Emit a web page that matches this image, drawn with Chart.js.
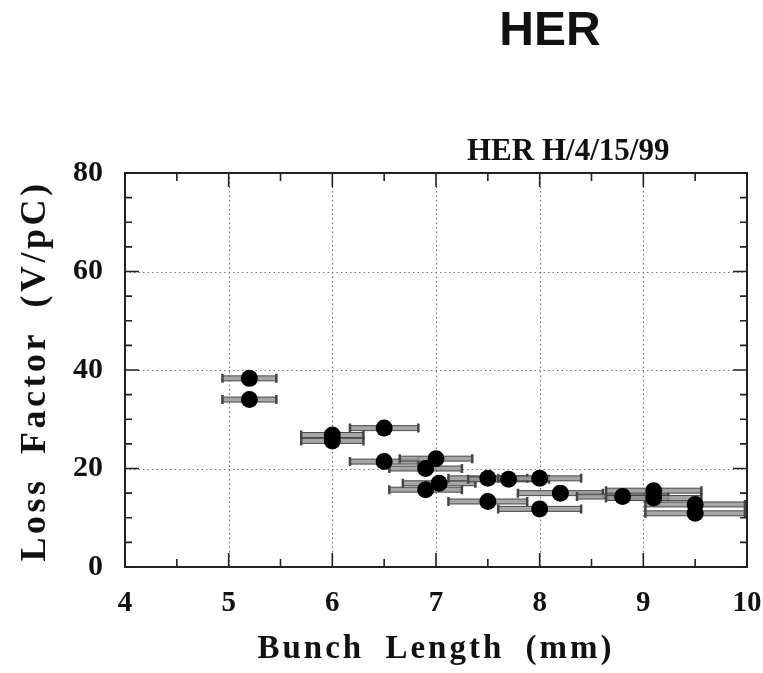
<!DOCTYPE html>
<html><head><meta charset="utf-8">
<script src="https://cdn.jsdelivr.net/npm/chart.js@4/dist/chart.umd.min.js"></script>
<style>html,body{margin:0;padding:0;background:#fff;overflow:hidden}</style>
</head><body>
<canvas id="c" width="763" height="673"></canvas>
<script>
// ---- data ----
const bunchLength    = [5.2, 5.2, 6.0, 6.0, 6.5, 6.5, 7.0, 6.9, 6.9, 7.03, 7.5, 7.5, 7.7, 8.0, 8.0, 8.2, 8.8, 9.1, 9.1, 9.5, 9.5];
const lossFactor     = [38.3, 34.0, 26.8, 25.6, 28.2, 21.4, 22.0, 20.0, 15.7, 17.0, 18.0, 13.3, 17.8, 18.0, 11.8, 15.0, 14.3, 15.5, 14.0, 12.7, 10.9];
const bunchLengthErr = [0.26, 0.26, 0.30, 0.30, 0.33, 0.33, 0.35, 0.35, 0.35, 0.35, 0.38, 0.38, 0.39, 0.40, 0.40, 0.41, 0.44, 0.46, 0.46, 0.48, 0.48];
const xTickLabels = [4, 5, 6, 7, 8, 9, 10];
const yTickLabels = [0, 20, 40, 60, 80];
const chartTitle = 'HER';
const runLabel = 'HER H/4/15/99';
const xTitle = 'Bunch Length (mm)';
const yTitle = 'Loss Factor (V/pC)';

const points = bunchLength.map((x, i) => ({x: x, y: lossFactor[i], e: bunchLengthErr[i]}));

const decor = {
  id: 'decor',
  beforeDatasetsDraw(chart) {
    const {ctx, chartArea: a, scales: {x, y}} = chart;
    ctx.save();
    // dotted grid
    ctx.setLineDash([1.5, 3]);
    ctx.strokeStyle = '#777';
    ctx.lineWidth = 1.2;
    xTickLabels.slice(1, -1).forEach(v => {
      const px = Math.round(x.getPixelForValue(v)) + 0.5;
      ctx.beginPath(); ctx.moveTo(px, a.top); ctx.lineTo(px, a.bottom); ctx.stroke();
    });
    yTickLabels.slice(1, -1).forEach(v => {
      const py = Math.round(y.getPixelForValue(v)) + 0.5;
      ctx.beginPath(); ctx.moveTo(a.left, py); ctx.lineTo(a.right, py); ctx.stroke();
    });
    ctx.setLineDash([]);
    // horizontal error bars
    points.forEach(p => {
      const x0 = x.getPixelForValue(p.x - p.e), x1 = x.getPixelForValue(p.x + p.e);
      const py = y.getPixelForValue(p.y);
      ctx.fillStyle = 'rgba(150,150,150,0.85)';
      ctx.fillRect(x0, py - 2.5, x1 - x0, 5);
      ctx.strokeStyle = 'rgba(50,50,50,0.85)';
      ctx.lineWidth = 1;
      ctx.beginPath();
      ctx.moveTo(x0, py - 2.5); ctx.lineTo(x1, py - 2.5);
      ctx.moveTo(x0, py + 2.5); ctx.lineTo(x1, py + 2.5);
      ctx.stroke();
      ctx.lineWidth = 2.5;
      ctx.strokeStyle = '#444';
      ctx.beginPath();
      ctx.moveTo(x0, py - 4.5); ctx.lineTo(x0, py + 4.5);
      ctx.moveTo(x1, py - 4.5); ctx.lineTo(x1, py + 4.5);
      ctx.stroke();
    });
    ctx.restore();
  },
  afterDatasetsDraw(chart) {
    const {ctx, chartArea: a, scales: {x, y}} = chart;
    ctx.save();
    ctx.strokeStyle = '#222';
    ctx.lineWidth = 2;
    ctx.strokeRect(a.left, a.top, a.right - a.left, a.bottom - a.top);
    ctx.lineWidth = 1.6;
    ctx.beginPath();
    for (let v = xTickLabels[0]; v <= xTickLabels[xTickLabels.length - 1] + 1e-9; v += 0.5) {
      const px = x.getPixelForValue(v);
      const len = Math.abs(v - Math.round(v)) < 1e-6 ? 14 : 8;
      ctx.moveTo(px, a.bottom); ctx.lineTo(px, a.bottom - len);
      ctx.moveTo(px, a.top); ctx.lineTo(px, a.top + len);
    }
    for (let v = yTickLabels[0]; v <= yTickLabels[yTickLabels.length - 1] + 1e-9; v += 5) {
      const py = y.getPixelForValue(v);
      const len = v % 20 === 0 ? 14 : 7;
      ctx.moveTo(a.left, py); ctx.lineTo(a.left + len, py);
      ctx.moveTo(a.right, py); ctx.lineTo(a.right - len, py);
    }
    ctx.stroke();

    ctx.fillStyle = '#111';
    // main title
    ctx.font = 'bold 48px "Liberation Sans", Arial, sans-serif';
    ctx.textAlign = 'center';
    ctx.textBaseline = 'alphabetic';
    ctx.fillText(chartTitle, 550, 45);
    // run label
    ctx.font = 'bold 31px "Liberation Serif", "Times New Roman", serif';
    ctx.textAlign = 'left';
    ctx.fillText(runLabel, 467, 160);
    // x title
    ctx.font = 'bold 33px "Liberation Serif", "Times New Roman", serif';
    ctx.letterSpacing = '3px';
    ctx.wordSpacing = '10px';
    ctx.textAlign = 'center';
    ctx.fillText(xTitle, 436, 658);
    // y title
    ctx.font = 'bold 36px "Liberation Serif", "Times New Roman", serif';
    ctx.letterSpacing = '3.5px';
    ctx.wordSpacing = '11px';
    ctx.translate(45, 371);
    ctx.rotate(-Math.PI / 2);
    ctx.fillText(yTitle, 0, 0);
    ctx.restore();
  }
};

new Chart(document.getElementById('c'), {
  type: 'scatter',
  data: {
    datasets: [{
      data: points,
      backgroundColor: '#000',
      borderWidth: 0,
      pointRadius: 8.5,
      pointHoverRadius: 8.5
    }]
  },
  options: {
    responsive: false,
    devicePixelRatio: 1,
    animation: false,
    events: [],
    layout: {padding: {top: 173, right: 16, left: 0, bottom: 0}},
    plugins: {legend: {display: false}, tooltip: {enabled: false}, title: {display: false}},
    scales: {
      x: {
        type: 'linear', min: 4, max: 10,
        afterFit: s => { s.height = 106; s.paddingLeft = 0; s.paddingRight = 0; },
        afterBuildTicks: s => { s.ticks = xTickLabels.map(v => ({value: v})); },
        grid: {display: false}, border: {display: false},
        ticks: {color: '#111', padding: 11, maxRotation: 0, autoSkip: false,
                font: {family: '"Liberation Serif", "Times New Roman", serif', size: 29, weight: 'bold'}}
      },
      y: {
        type: 'linear', min: 0, max: 80,
        afterFit: s => { s.width = 125; s.paddingTop = 0; s.paddingBottom = 0; },
        afterBuildTicks: s => { s.ticks = yTickLabels.map(v => ({value: v})); },
        grid: {display: false}, border: {display: false},
        ticks: {color: '#111', padding: 14, autoSkip: false,
                font: {family: '"Liberation Serif", "Times New Roman", serif', size: 30, weight: 'bold'}}
      }
    }
  },
  plugins: [decor]
});
</script>
</body></html>
